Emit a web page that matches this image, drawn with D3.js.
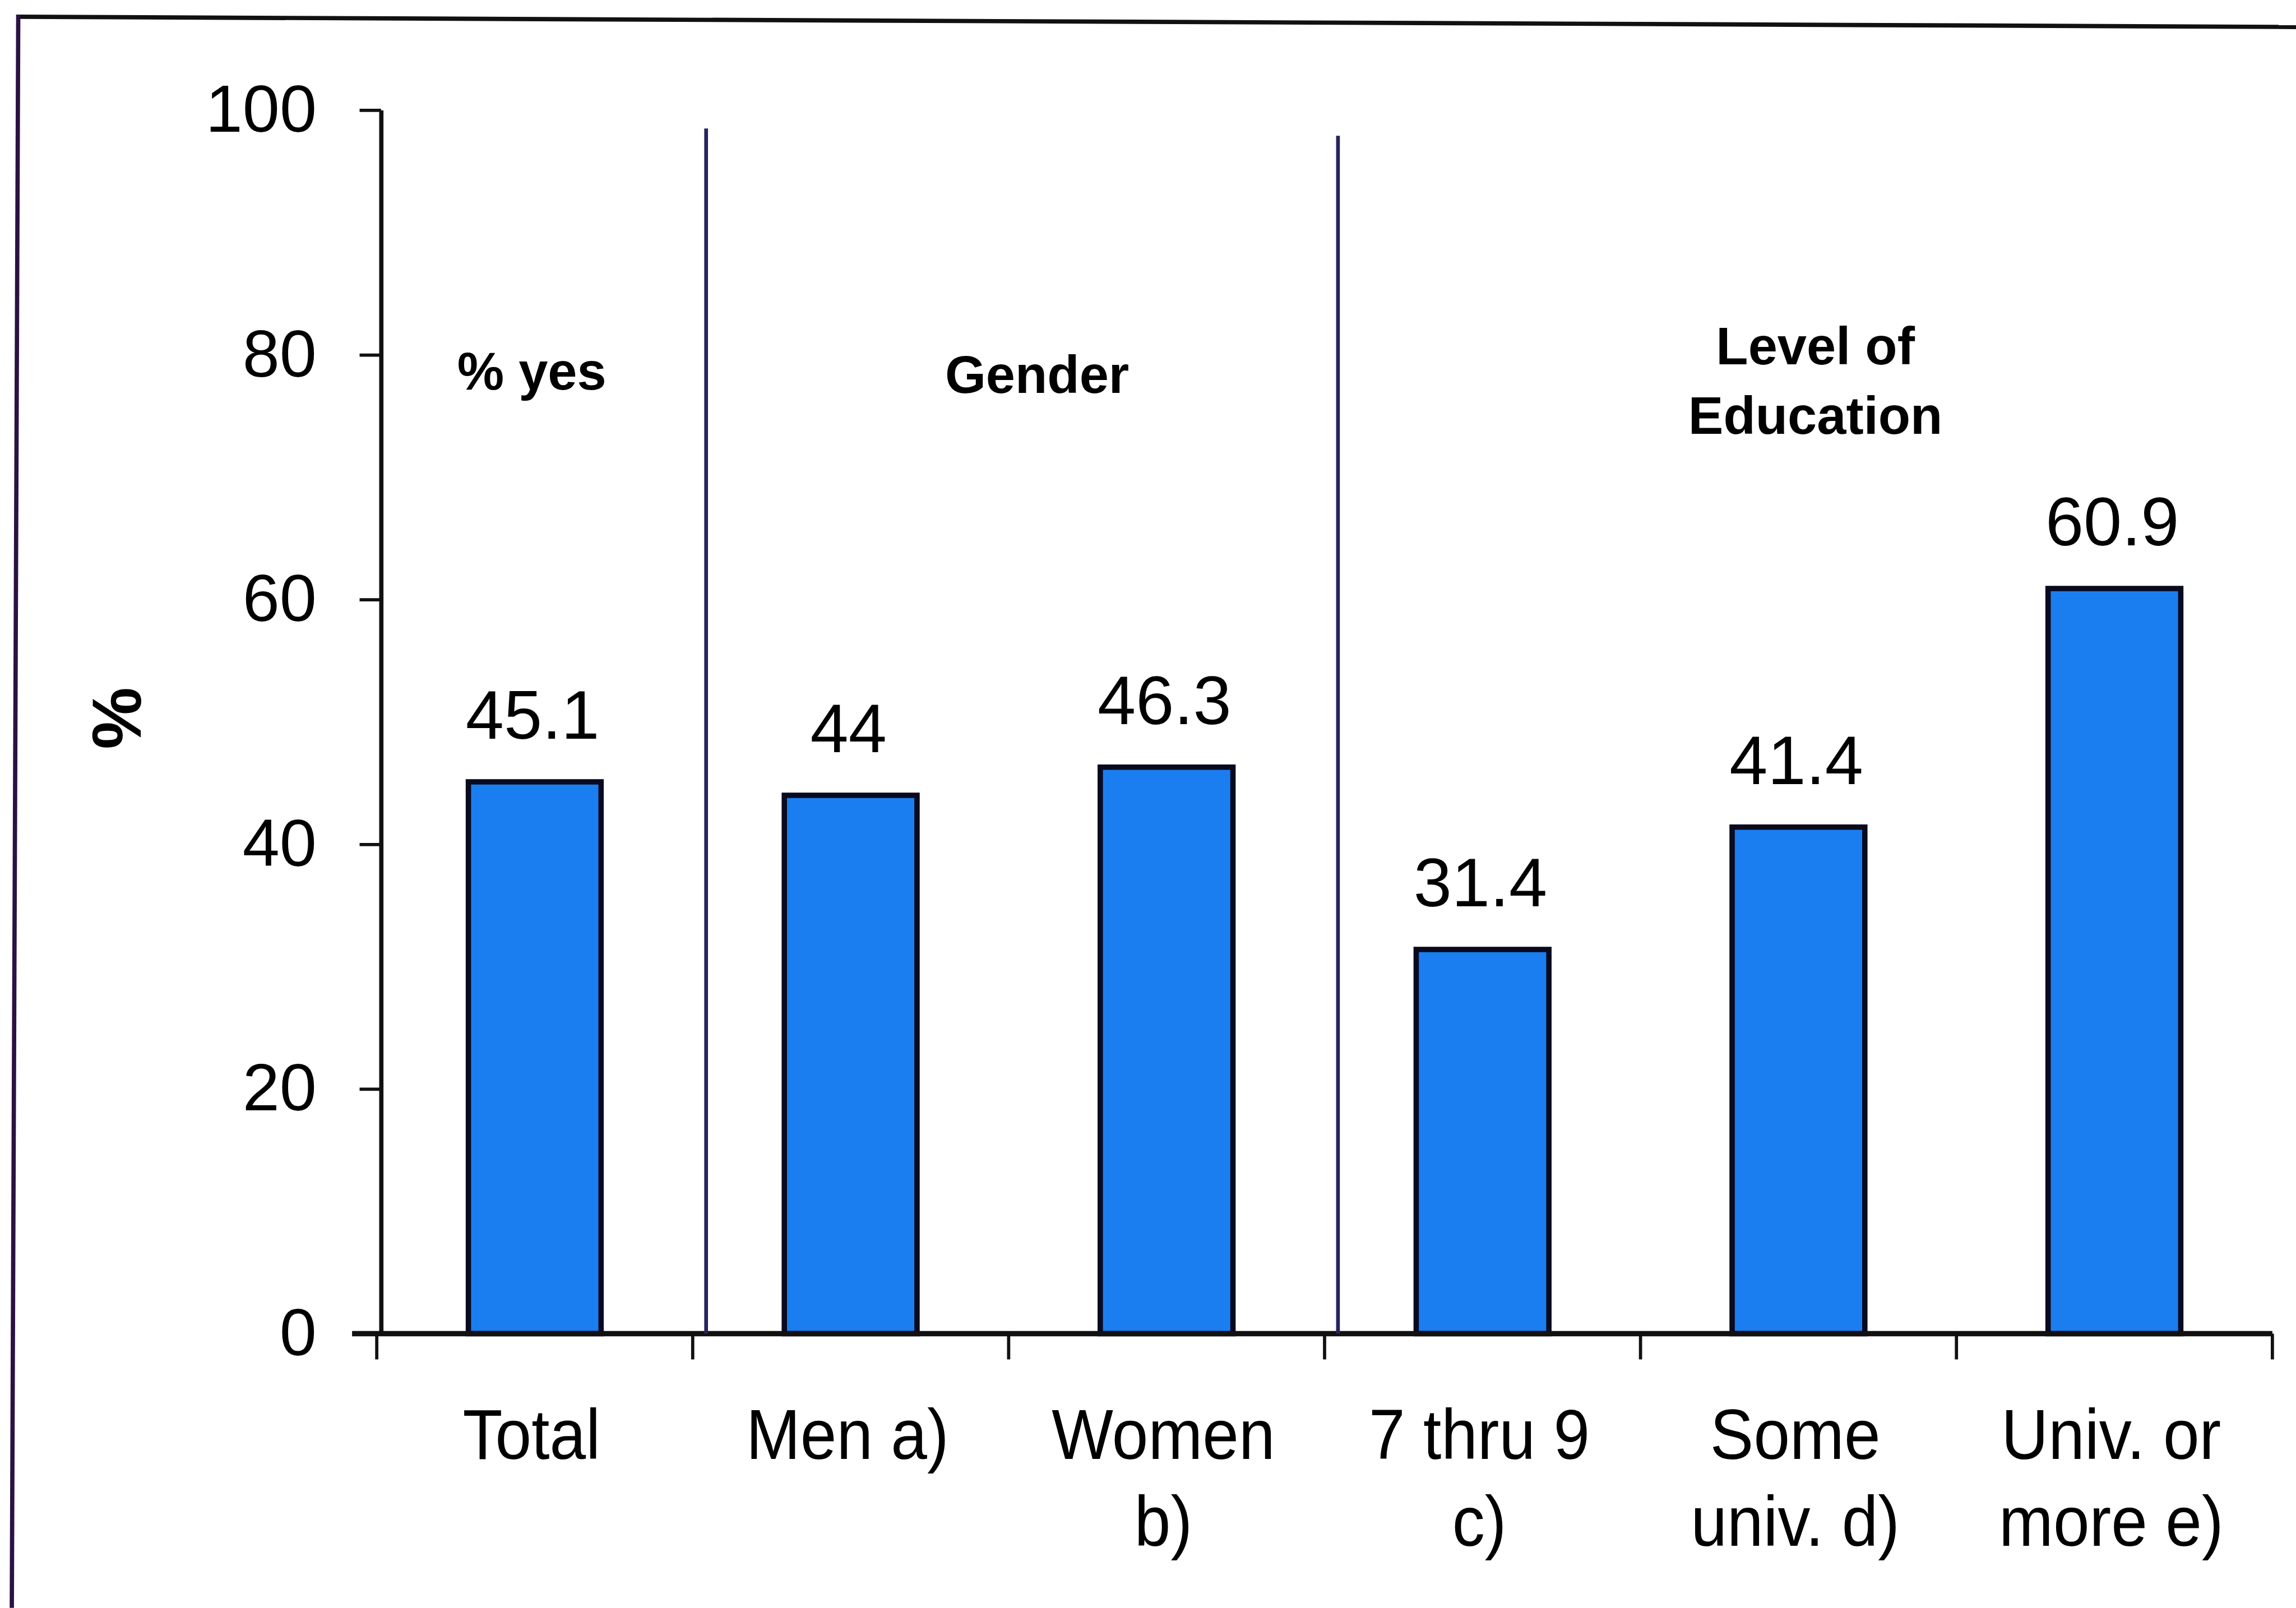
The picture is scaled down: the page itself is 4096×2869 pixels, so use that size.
<!DOCTYPE html>
<html>
<head>
<meta charset="utf-8">
<script src="https://cdn.jsdelivr.net/npm/d3@7"></script>
<style>
  html, body { margin: 0; padding: 0; background: #ffffff; }
  svg { display: block; }
  text { font-family: "Liberation Sans", Arial, Helvetica, sans-serif; fill: #000; }
</style>
</head>
<body>
<script>
// Share answering "yes", overall and by gender and level of education
const categories = ["Total", "Men a)", "Women b)", "7 thru 9 c)", "Some univ. d)", "Univ. or more e)"];
const categoryLines = [["Total"], ["Men a)"], ["Women", "b)"], ["7 thru 9", "c)"], ["Some", "univ. d)"], ["Univ. or", "more e)"]];
const values = [45.1, 44, 46.3, 31.4, 41.4, 60.9];
const valueLabels = ["45.1", "44", "46.3", "31.4", "41.4", "60.9"];
const yTicks = [0, 20, 40, 60, 80, 100];
const groupNames = [["% yes"], ["Gender"], ["Level of", "Education"]];
const groupSizes = [1, 2, 3];

// Drawing is laid out on a 4278 x 2996 canvas and scaled to the window
const W = 4278, H = 2996;
const svg = d3.select("body").append("svg")
  .attr("width", 4096).attr("height", 2869)
  .attr("viewBox", `0 0 ${W} ${H}`);

svg.append("rect").attr("width", W).attr("height", H).attr("fill", "#fff");

// frame: top rule and left rule
svg.append("line").attr("x1", 33).attr("y1", 31).attr("x2", W).attr("y2", 50)
  .attr("stroke", "#111").attr("stroke-width", 8);
svg.append("line").attr("x1", 34).attr("y1", 27).attr("x2", 22).attr("y2", H)
  .attr("stroke", "#2a1244").attr("stroke-width", 8);

const plot = { left: 710, right: 4234, top: 205, bottom: 2485 };

const x = d3.scaleBand().domain(categories)
  .range([plot.left - 8, plot.right])
  .paddingInner(0.58).paddingOuter(0.29);
const y = d3.scaleLinear().domain([0, 100]).range([plot.bottom, plot.top]);

// y axis
const yAxis = d3.axisLeft(y).tickValues(yTicks).tickSize(40).tickSizeOuter(0).tickPadding(80);
const yg = svg.append("g").attr("transform", `translate(${plot.left},0)`).call(yAxis);
yg.select(".domain").attr("stroke", "#111").attr("stroke-width", 8);
yg.selectAll(".tick line").attr("stroke", "#111").attr("stroke-width", 6);
yg.selectAll(".tick text").attr("font-size", 124).attr("fill", "#000")
  .attr("font-family", "'Liberation Sans', Arial, sans-serif");

// y axis title
svg.append("text")
  .attr("transform", `translate(217,1338) rotate(-90)`)
  .attr("text-anchor", "middle").attr("dominant-baseline", "central")
  .attr("font-size", 130).attr("font-weight", "bold").text("%");

// band boundaries for x ticks and group separators
const step = x.step();
const boundaries = d3.range(categories.length + 1)
  .map(i => x(categories[0]) - step * x.paddingInner() / 2 + i * step);

// bars
const bars = svg.append("g");
bars.selectAll("rect").data(values).join("rect")
  .attr("x", (d, i) => x(categories[i]))
  .attr("y", d => y(d))
  .attr("width", x.bandwidth())
  .attr("height", d => y(0) - y(d))
  .attr("fill", "#1b7ef0")
  .attr("stroke", "#0a0a1e").attr("stroke-width", 10);

// x axis line and ticks
svg.append("line").attr("x1", 656).attr("x2", plot.right)
  .attr("y1", y(0)).attr("y2", y(0))
  .attr("stroke", "#111").attr("stroke-width", 10);
svg.append("g").selectAll("line").data(boundaries).join("line")
  .attr("x1", d => d).attr("x2", d => d)
  .attr("y1", y(0)).attr("y2", y(0) + 48)
  .attr("stroke", "#111").attr("stroke-width", 6);

// group separators
let acc = 0;
const sepIdx = groupSizes.slice(0, -1).map(s => (acc += s));
const sepX = sepIdx.map(i => boundaries[i] + 25);
const sepTop = [98.5, 97.9];
svg.append("g").selectAll("line").data(sepX).join("line")
  .attr("x1", d => d).attr("x2", d => d)
  .attr("y1", (d, i) => y(sepTop[i])).attr("y2", y(0))
  .attr("stroke", "#26245e").attr("stroke-width", 7);

// group titles, set within the span between separators
const spans = [plot.left, ...sepX, plot.right];
const groupNudge = [-22, 28, 19];
const groupBaseline = [[726], [732], [679, 808]];
groupNames.forEach((lines, g) => {
  const cx = (spans[g] + spans[g + 1]) / 2 + groupNudge[g];
  const t = svg.append("text").attr("text-anchor", "middle")
    .attr("font-size", 98).attr("font-weight", "bold");
  lines.forEach((ln, k) => {
    t.append("tspan").attr("x", cx).attr("y", groupBaseline[g][k]).text(ln);
  });
});

// value labels above the bars
svg.append("g").selectAll("text").data(values).join("text")
  .attr("x", (d, i) => x(categories[i]) + x.bandwidth() / 2 - 4)
  .attr("y", d => y(d) - 80)
  .attr("text-anchor", "middle").attr("font-size", 128)
  .text((d, i) => valueLabels[i]);

// category labels, slightly condensed
const catG = svg.append("g");
categoryLines.forEach((lines, i) => {
  const cx = x(categories[i]) + x.bandwidth() / 2 - 6;
  const t = catG.append("text")
    .attr("transform", `translate(${cx},0) scale(0.92,1)`)
    .attr("text-anchor", "middle").attr("font-size", 132);
  lines.forEach((ln, k) => {
    t.append("tspan").attr("x", 0).attr("y", 2718 + k * 162).text(ln);
  });
});
</script>
</body>
</html>
